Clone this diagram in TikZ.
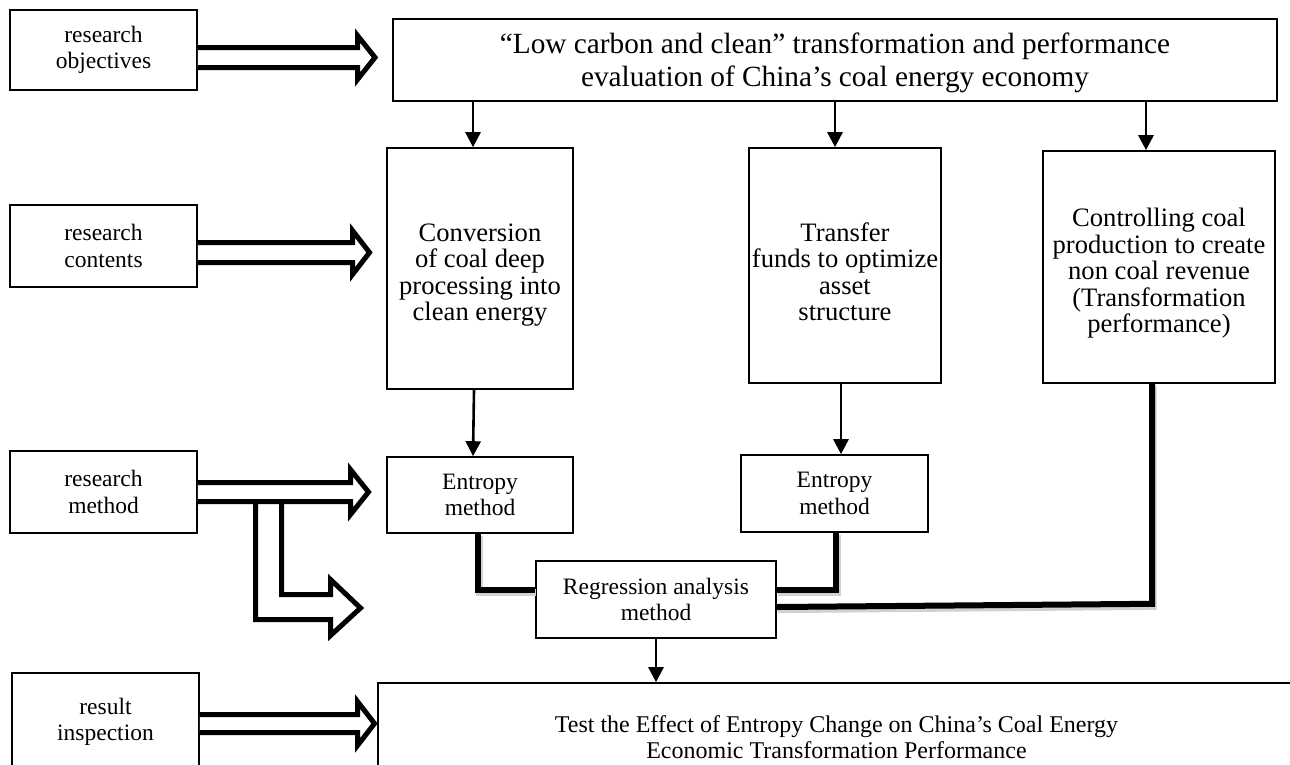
\documentclass[tikz,border=0pt]{standalone}
\usepackage{fontspec}
\setmainfont{Liberation Serif}
\usetikzlibrary{arrows.meta}
\newcommand\lowerby[1]{\rule{0pt}{#1}}
\begin{document}
\begin{tikzpicture}[x=1pt,y=-1pt,
  box/.style={draw, line width=1.6pt, inner sep=0pt, align=center,
    font=\fontsize{23.5}{26.3}\selectfont},
  colbox/.style={box, font=\fontsize{26.6}{26.4}\selectfont},
  thin/.style={line width=2.6pt, -{Triangle[length=15pt,width=15pt]}},
  thick/.style={line width=6pt, line join=miter},
  shadow/.style={line width=7pt, draw=black!18, line join=miter,
    transform canvas={xshift=1.2pt,yshift=-2.6pt}},
  hollow/.style={line width=5pt, line join=miter, miter limit=10, fill=white}
]
\useasboundingbox (0,0) rectangle (1290,764);
\clip (0,0) rectangle (1290,764);

% left column boxes
\node[box, minimum width=187pt, minimum height=80pt] (obj) at (103.5,50) {research\\objectives};
\node[box, minimum width=187pt, minimum height=82pt] (cont) at (103.5,246) {research\\contents};
\node[box, minimum width=187pt, minimum height=82pt] (meth) at (103.5,492) {research\\method};
\node[box, minimum width=187pt, minimum height=98pt] (res) at (105.5,722) {result\\inspection};

% main boxes
\node[box, font=\fontsize{29.3}{33}\selectfont, minimum width=884pt, minimum height=82pt] (top) at (835,60)
  {\lowerby{27pt}“Low carbon and clean” transformation and performance\\evaluation of China’s coal energy economy};
\node[colbox, minimum width=186pt, minimum height=241pt] (c1) at (480,268.5)
  {\lowerby{31pt}Conversion\\of coal deep\\processing into\\clean energy};
\node[colbox, minimum width=192pt, minimum height=235pt] (c2) at (845,265.5)
  {\lowerby{31pt}Transfer\\funds to optimize\\asset\\structure};
\node[colbox, minimum width=232pt, minimum height=232pt] (c3) at (1159,267)
  {\lowerby{31pt}Controlling coal\\production to create\\non coal revenue\\(Transformation\\performance)};
\node[box, minimum width=186pt, minimum height=76pt] (e1) at (480,495) {Entropy\\method};
\node[box, minimum width=187pt, minimum height=77pt] (e2) at (834.5,493.5) {Entropy\\method};
\node[box, minimum width=240pt, minimum height=77pt] (reg) at (656,599.5) {Regression analysis\\method};
\node[box, font=\fontsize{24}{26.3}\selectfont, minimum width=917pt, minimum height=108pt] (bot) at (836.5,737)
  {Test the Effect of Entropy Change on China’s Coal Energy\\Economic Transformation Performance};

% thin arrows
\draw[thin] (top.south -| c1.north) ++(-7,0) coordinate (t1) -- (t1 |- c1.north);
\draw[thin] ([xshift=-10pt]top.south -| c2.north) coordinate (t2) -- (t2 |- c2.north);
\draw[thin] ([xshift=-13pt]top.south -| c3.north) coordinate (t3) -- (t3 |- c3.north);
\draw[thin] ([xshift=-6pt]c1.south) -- ([xshift=-7pt]e1.north);
\draw[thin] ([xshift=-4pt]c2.south) coordinate (t5) -- (t5 |- e2.north);
\draw[thin] (reg.south) -- (reg.south |- bot.north);

% thick connectors with shadow
\draw[shadow] ([xshift=-2pt]e1.south) |- ([yshift=9.5pt]reg.west);
\draw[shadow] ([xshift=1.5pt]e2.south) |- ([yshift=9.5pt]reg.east);
\draw[shadow] ([xshift=-7pt]c3.south) -- ++(0,220) -- ([yshift=-7.5pt]reg.east);
\draw[thick] ([xshift=-2pt]e1.south) |- ([yshift=9.5pt]reg.west);
\draw[thick] ([xshift=1.5pt]e2.south) |- ([yshift=9.5pt]reg.east);
\draw[thick] ([xshift=-7pt]c3.south) -- ++(0,220) -- ([yshift=-7.5pt]reg.east);

% hollow arrows
\draw[hollow] ([yshift=2.5pt]obj.east) -- (357.5,47.5) -- (357.5,35.5) -- (375,57.5)
  -- (357.5,79.5) -- (357.5,67.5) -- ([yshift=-17.5pt]obj.east);
\draw[hollow] ([yshift=3.5pt]cont.east) -- (352.5,242.5) -- (352.5,230.5) -- (369.5,252.5)
  -- (352.5,274.5) -- (352.5,262.5) -- ([yshift=-16.5pt]cont.east);
\draw[hollow] ([yshift=9.5pt]meth.east) -- (350.5,482.5) -- (350.5,469.5) -- (368.5,492)
  -- (350.5,514.5) -- (350.5,501.5) -- ([yshift=-9.5pt]meth.east);
\draw[hollow] (255.5,501.5) -- (255.5,619.5) -- (330.5,619.5) -- (330.5,635.5) -- (360.5,608)
  -- (330.5,579.5) -- (330.5,594.5) -- (281.5,594.5) -- (281.5,501.5) -- cycle;
\draw[hollow] ([yshift=7.5pt]res.east) -- (357.5,714.5) -- (357.5,701.5) -- (374.5,723.5)
  -- (357.5,745.5) -- (357.5,732.5) -- ([yshift=-10.5pt]res.east);
\end{tikzpicture}
\end{document}
